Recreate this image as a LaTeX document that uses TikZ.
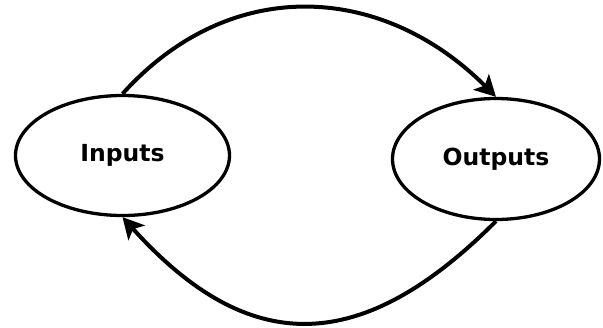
\documentclass[tikz,border=0pt]{standalone}
\usepackage{fontspec}
\setmainfont{DejaVu Sans}
\usetikzlibrary{arrows.meta,shapes.geometric}

\begin{document}
\begin{tikzpicture}[
    x=1pt, y=1pt,
    blob/.style={ellipse, draw, line width=3.3pt, inner sep=0pt, font=\fontsize{23.5}{28}\selectfont\bfseries},
    flow/.style={line width=4pt, -{Stealth[length=21pt, width=22pt, inset=5pt]}},
]

% Page frame
\useasboundingbox (0,0) rectangle (603,-327);

% Stages
\node[blob, minimum width=214pt, minimum height=120pt] (inputs) at (122.5,-155.5) {Inputs};
\node[blob, minimum width=207pt, minimum height=121pt] (outputs) at (496,-159) {Outputs};

% Feedback loop
\draw[flow] (inputs.north) to[out=48, in=135, looseness=1.1] (outputs.north);
\draw[flow] (outputs.south) to[out=-135, in=-48, looseness=1.3] (inputs.south);

\end{tikzpicture}
\end{document}
